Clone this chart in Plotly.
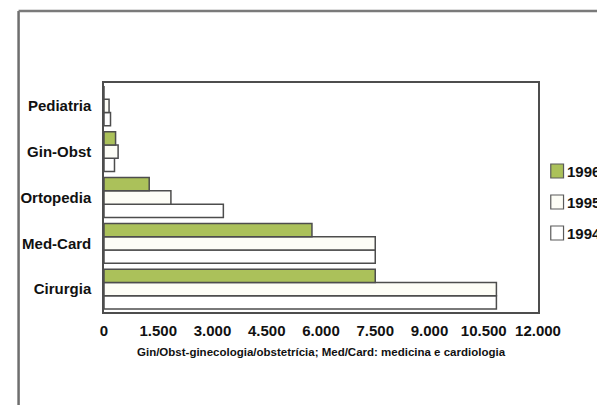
import plotly.graph_objects as go

categories = ["Cirurgia", "Med-Card", "Ortopedia", "Gin-Obst", "Pediatria"]
years = ["1994", "1995", "1996"]
values_1994 = [10850, 7500, 3300, 290, 180]
values_1995 = [10850, 7500, 1850, 390, 140]
values_1996 = [7500, 5750, 1250, 320, 0]
series = {"1994": values_1994, "1995": values_1995, "1996": values_1996}
colors = {"1994": "#ffffff", "1995": "#fdfdf6", "1996": "#abc15a"}
tick_vals = [0, 1500, 3000, 4500, 6000, 7500, 9000, 10500, 12000]
tick_text = ["0", "1.500", "3.000", "4.500", "6.000", "7.500", "9.000", "10.500", "12.000"]
caption = "Gin/Obst-ginecologia/obstetrícia; Med/Card: medicina e cardiologia"

# page body has an 8px margin; work in page pixels and shift
OFF = 8
W, H = 605 - OFF, 405 - OFF
L, R, T, B = 96 - OFF, 538 - OFF, 83 - OFF, 312 - OFF
pw, ph = R - L, B - T

def px(x):  # page pixel -> paper
    return (x - OFF - L) / pw

def py(y):
    return (B - (y - OFF)) / ph

FONT = "Liberation Sans, Arial, sans-serif"
EDGE = "#4d4d4d"

fig = go.Figure()
for yr in years:
    fig.add_trace(go.Bar(
        y=categories, x=series[yr], orientation="h", name=yr,
        marker=dict(color=colors[yr], line=dict(color=EDGE, width=1.5)),
        showlegend=False,
    ))

shapes = [
    dict(type="line", xref="paper", yref="paper", x0=px(9), x1=px(9), y0=py(11), y1=py(410),
         line=dict(color="#6e6e6e", width=2.5)),
    dict(type="line", xref="paper", yref="paper", x0=px(9), x1=px(610), y0=py(11), y1=py(11),
         line=dict(color="#7a7a7a", width=2.5)),
]
annotations = []
legend_y = {"1996": 171, "1995": 202, "1994": 233}
for yr in ["1996", "1995", "1994"]:
    yc = legend_y[yr]
    shapes.append(dict(type="rect", xref="paper", yref="paper",
                       x0=px(551), x1=px(564), y0=py(yc + 7), y1=py(yc - 7),
                       fillcolor=colors[yr], line=dict(color="#5a5a5a", width=1.2)))
    annotations.append(dict(text="<b>" + yr + "</b>", xref="paper", yref="paper", x=px(566), y=py(yc),
                            xanchor="left", yanchor="middle", showarrow=False,
                            font=dict(family=FONT, size=15, color="#111111")))
annotations.append(dict(text="<b>" + caption + "</b>", xref="paper", yref="paper",
                        x=px(317), y=py(352), xanchor="center", yanchor="middle",
                        showarrow=False, font=dict(family=FONT, size=11.5, color="#111111")))

fig.update_layout(
    width=W, height=H,
    margin=dict(l=L, r=W - R, t=T, b=H - B, pad=0),
    paper_bgcolor="white", plot_bgcolor="white",
    barmode="group", bargap=0.13, bargroupgap=0,
    shapes=shapes, annotations=annotations,
    font=dict(family=FONT, size=15, color="#111111"),
)
fig.update_xaxes(
    range=[0, 12000], tickvals=tick_vals, ticktext=["<b>%s</b>" % t for t in tick_text],
    showgrid=False, zeroline=False, showline=True, linecolor=EDGE, linewidth=1.5, mirror=True,
    ticks="outside", ticklen=4, tickcolor="rgba(0,0,0,0)",
    tickfont=dict(family=FONT, size=15, color="#111111"),
)
fig.update_yaxes(
    categoryorder="array", categoryarray=categories,
    tickvals=categories, ticktext=["<b>%s</b>" % c for c in categories],
    showgrid=False, zeroline=False, showline=True, linecolor=EDGE, linewidth=1.5, mirror=True,
    ticks="outside", ticklen=8, tickcolor="rgba(0,0,0,0)",
    tickfont=dict(family=FONT, size=15, color="#111111"),
)
fig.write_html("out.html")
